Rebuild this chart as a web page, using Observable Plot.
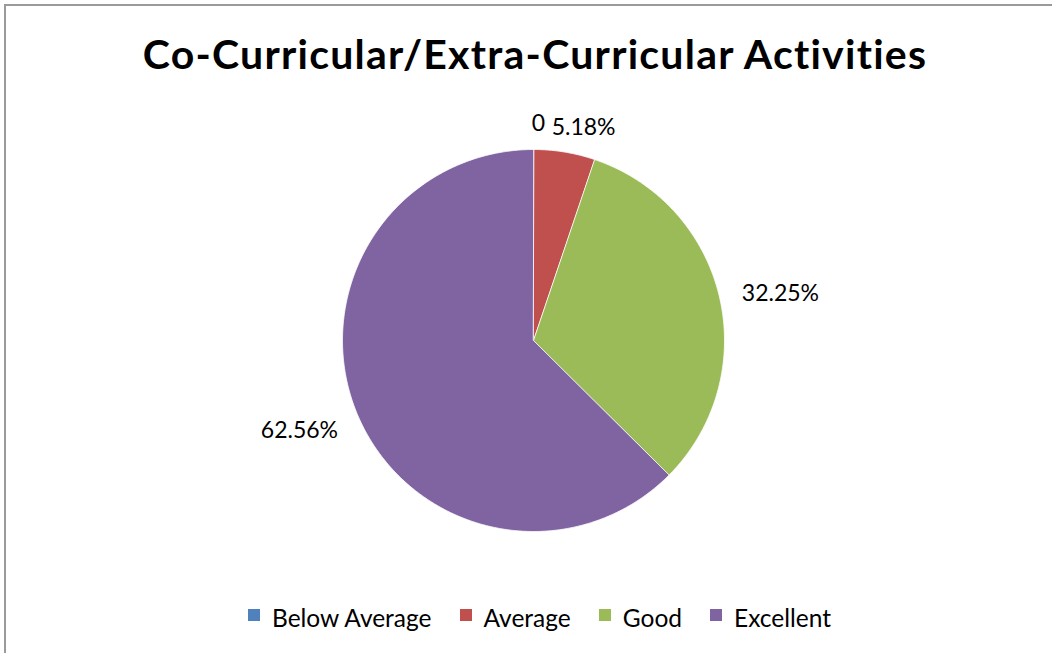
<!DOCTYPE html>
<html>
<head>
<meta charset="utf-8">
<script src="https://cdn.jsdelivr.net/npm/d3@7"></script>
<script src="https://cdn.jsdelivr.net/npm/@observablehq/plot@0.6"></script>
<style>
  html, body { margin: 0; padding: 0; background: #fff; overflow: hidden; width: 1052px; height: 653px; }
  #frame { position: absolute; left: 4px; top: 4px; width: 1100px; height: 700px; border: 2px solid #9a9a9a; box-sizing: border-box; }
  #title { position: absolute; left: 0; width: 1070px; top: 29px; text-align: center; font-family: Lato, sans-serif; font-weight: 700; font-size: 41px; letter-spacing: 1.25px; font-variant-ligatures: none; font-feature-settings: "liga" 0; color: #000; white-space: nowrap; }
  #chart { position: absolute; left: 0; top: 0; }
  #legend { position: absolute; left: 248px; top: 603px; }
  div.lg-swatches { font-family: Lato, sans-serif !important; font-size: 24.5px !important; color: #000; margin: 0 !important; min-height: 0 !important; display: flex !important; align-items: center; flex-wrap: nowrap !important; }
  span.lg-swatch { margin-right: 28px !important; display: inline-flex; align-items: center; }
  span.lg-swatch > svg { margin-right: 12px !important; position: relative; top: -3px; }
</style>
</head>
<body>
<div id="frame"></div>
<div id="title">Co-Curricular/Extra-Curricular Activities</div>
<div id="chart"></div>
<div id="legend"></div>
<script>
// ---- data ----
const categories = ["Below Average", "Average", "Good", "Excellent"];
const values = [0, 5.18, 32.25, 62.56];
const labels = ["0", "5.18%", "32.25%", "62.56%"];
const colors = ["#4F81BD", "#C0504D", "#9BBB59", "#8064A2"];

// ---- layout ----
const W = 1052, H = 653;
const CX = 533, CY = 340, R = 191;
const labelRadius = [1.136, 1.146, 1.316, 1.313];
const labelNudgeDeg = [1.3, 3.9, 2.5, 1.6];

const arcs = d3.pie().sort(null)(values);

const slicePts = [];
arcs.forEach((a, i) => {
  const cat = categories[i];
  const span = a.endAngle - a.startAngle;
  const steps = Math.max(1, Math.ceil(span / (Math.PI / 360)));
  slicePts.push({cat, x: 0, y: 0});
  for (let k = 0; k <= steps; k++) {
    const t = a.startAngle + span * k / steps;
    slicePts.push({cat, x: Math.sin(t), y: Math.cos(t)});
  }
});

const labelPts = arcs.map((a, i) => {
  const mid = (a.startAngle + a.endAngle) / 2 + labelNudgeDeg[i] * Math.PI / 180;
  return {x: Math.sin(mid) * labelRadius[i], y: Math.cos(mid) * labelRadius[i], text: labels[i]};
});

const chart = Plot.plot({
  width: W,
  height: H,
  margin: 0,
  style: {background: "transparent", fontFamily: "Lato, sans-serif", overflow: "visible"},
  x: {domain: [-CX / R, (W - CX) / R], axis: null},
  y: {domain: [-(H - CY) / R, CY / R], axis: null},
  color: {domain: categories, range: colors},
  marks: [
    Plot.line(slicePts, {x: "x", y: "y", z: "cat", fill: "cat", stroke: "white", strokeWidth: 1, strokeOpacity: 0.8, curve: "linear-closed"}),
    Plot.text(labelPts, {x: "x", y: "y", text: "text", fill: "black", fontSize: 23, textAnchor: "middle"})
  ]
});
document.getElementById("chart").appendChild(chart);

const legend = Plot.legend({
  color: {domain: categories, range: colors},
  legend: "swatches",
  swatchSize: 12,
  className: "lg"
});
document.getElementById("legend").appendChild(legend);
</script>
</body>
</html>
